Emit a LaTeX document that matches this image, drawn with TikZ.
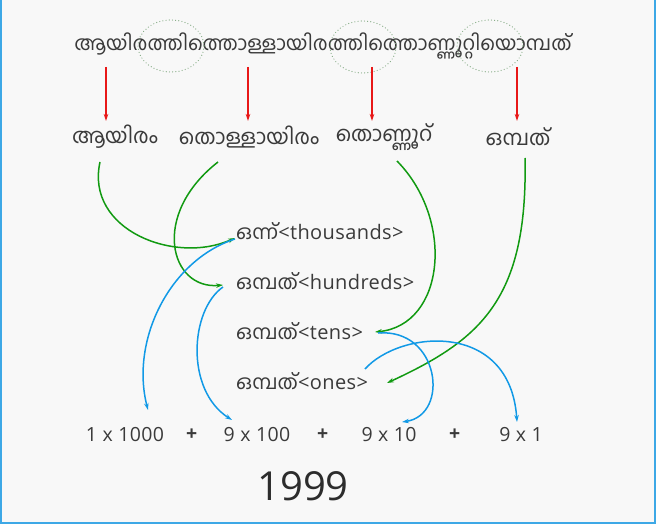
\documentclass[tikz,border=0pt]{standalone}
\usepackage{fontspec}
\setmainfont[Script=Malayalam]{Hind Kochi}
\newfontfamily\mlfont[Script=Malayalam]{Hind Kochi}
\newfontfamily\latfont{Open Sans}
\newfontfamily\latwide[LetterSpace=2]{Open Sans}
\usetikzlibrary{arrows.meta}
\definecolor{bgc}{HTML}{F8F8F8}
\definecolor{framec}{HTML}{3DA8E6}
\definecolor{txt}{HTML}{3A3A3A}
\definecolor{darktxt}{HTML}{2C2C2C}
\definecolor{redc}{HTML}{E81818}
\definecolor{greenc}{HTML}{119A11}
\definecolor{bluec}{HTML}{1199E6}
\definecolor{dotc}{HTML}{7FA87F}
\newcommand{\lat}[1]{{\latwide\fontsize{20}{24}\selectfont #1}}
\tikzset{
  topword/.style={text=txt, inner sep=0pt, font=\mlfont\fontsize{20}{24}\selectfont},
  word/.style={text=txt, inner sep=0pt, font=\mlfont\fontsize{21}{25}\selectfont},
  label/.style={text=txt, inner sep=0pt, anchor=west, font=\mlfont\fontsize{20}{24}\selectfont},
  num/.style={text=txt, inner sep=0pt, font=\latwide\fontsize{19.5}{23}\selectfont},
  redarrow/.style={draw=redc, line width=1.4pt, -{Stealth[length=7pt,width=4.5pt]}},
  greenarrow/.style={draw=greenc, line width=1.5pt, -{Stealth[length=7pt,width=4.5pt]}},
  bluearrow/.style={draw=bluec, line width=1.5pt, -{Stealth[length=7pt,width=4.5pt]}},
  dotring/.style={draw=dotc, line width=1.2pt, line cap=round, dash pattern=on 0pt off 3.2pt}
}
\begin{document}
\begin{tikzpicture}[x=1pt,y=-1pt]
\useasboundingbox (0,0) rectangle (656,524);
\fill[bgc] (0,0) rectangle (656,524);
\draw[framec, line width=2pt] (1,0) -- (1,523) -- (655,523) -- (655,0);

% top word
\node[topword] (top) at (323,46) {ആയിരത്തിത്തൊള്ളായിരത്തിത്തൊണ്ണൂറ്റിയൊമ്പത്};
\draw[dotring] (171,46) ellipse [x radius=33, y radius=26];
\draw[dotring] (363,47) ellipse [x radius=33, y radius=26];
\draw[dotring] (490,46) ellipse [x radius=33, y radius=26];

% second row
\node[word] (w1) at (115,137) {ആയിരം};
\node[word] (w2) at (249,137) {തൊള്ളായിരം};
\node[word] (w3) at (384,137) {തൊണ്ണൂറ്};
\node[word] (w4) at (518,137) {ഒമ്പത്};

\coordinate (r1s) at (106,67); \coordinate (r1e) at (106,121);
\coordinate (r2s) at (248,67); \coordinate (r2e) at (248,121);
\coordinate (r3s) at (372,67); \coordinate (r3e) at (372,121);
\coordinate (r4s) at (517,67); \coordinate (r4e) at (517,121);
\draw[redarrow] (r1s) -- (r1e);
\draw[redarrow] (r2s) -- (r2e);
\draw[redarrow] (r3s) -- (r3e);
\draw[redarrow] (r4s) -- (r4e);

% labels
\node[label] (th) at (236,231) {ഒന്ന്\lat{<thousands>}};
\node[label] (hu) at (236,281) {ഒമ്പത്\lat{<hundreds>}};
\node[label] (te) at (236,331) {ഒമ്പത്\lat{<tens>}};
\node[label] (on) at (236,381) {ഒമ്പത്\lat{<ones>}};

% bottom row
\node[num] (n1) at (125,435) {1 x 1000};
\node[num] (p1) at (192,435) {\textbf{+}};
\node[num] (n2) at (257,435) {9 x 100};
\node[num] (p2) at (323,435) {\textbf{+}};
\node[num] (n3) at (389,435) {9 x 10};
\node[num] (p3) at (455,435) {\textbf{+}};
\node[num] (n4) at (521,435) {9 x 1};
\node[text=darktxt, inner sep=0pt, font=\latfont\fontsize{40}{44}\selectfont] (sum) at (303,486) {1999};

% anchor coordinates for connectors
\coordinate (g1s) at (100,162); \coordinate (g1e) at (235,238);
\coordinate (g2s) at (218,162); \coordinate (g2e) at (223,285);
\coordinate (g3s) at (397,161); \coordinate (g3e) at (375,332);
\coordinate (g4s) at (525,158); \coordinate (g4e) at (387,383);
\coordinate (b1s) at (235,239); \coordinate (b1e) at (148,410);
\coordinate (b2s) at (223,287); \coordinate (b2e) at (232,420);
\coordinate (b3s) at (378,333); \coordinate (b3e) at (402,422);
\coordinate (b4s) at (365,369); \coordinate (b4e) at (517,422);

\draw[greenarrow] (g1s) .. controls (85,230) and (175,265) .. (g1e);
\draw[greenarrow] (g2s) .. controls (150,215) and (170,290) .. (g2e);
\draw[greenarrow] (g3s) .. controls (455,220) and (445,325) .. (g3e);
\draw[greenarrow] (g4s) .. controls (528,300) and (480,340) .. (g4e);

\draw[bluearrow] (b1s) .. controls (170,260) and (130,340) .. (b1e);
\draw[bluearrow] (b2s) .. controls (190,310) and (185,390) .. (b2e);
\draw[bluearrow] (b3s) .. controls (440,328) and (450,415) .. (b3e);
\draw[bluearrow] (b4s) .. controls (400,330) and (510,320) .. (b4e);
\end{tikzpicture}
\end{document}
